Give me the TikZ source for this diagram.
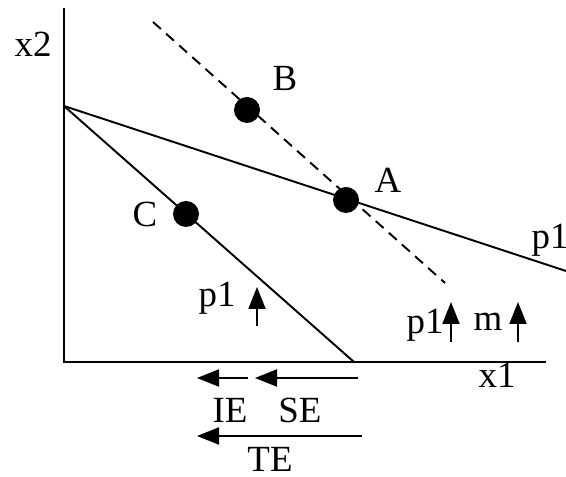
\documentclass[tikz,border=0pt]{standalone}
\usepackage{fontspec}
\setmainfont{Liberation Serif}
\usetikzlibrary{arrows.meta}
\begin{document}
\begin{tikzpicture}[line width=1.1pt, font=\fontsize{21}{25}\selectfont]
\useasboundingbox (0,0) rectangle (11.32,9.54);
% axes
\coordinate (o) at (1.28,2.30);
\coordinate (ytop) at (1.28,9.38);
\coordinate (xend) at (10.92,2.30);
\draw (ytop) -- (o) -- (xend);
\node (x2) at (0.66,8.66) {x2};
\node (x1) at (9.94,2.04) {x1};
% budget lines
\coordinate (i) at (1.28,7.42);
\coordinate (r) at (11.32,4.12);
\coordinate (s) at (7.08,2.30);
\coordinate (d1) at (3.06,9.10);
\coordinate (d2) at (8.90,3.88);
\draw (i) -- (r);
\draw (i) -- (s);
\draw[dashed, dash pattern=on 6pt off 4pt] (d1) -- (d2);
% bundles
\node[circle, fill, inner sep=0pt, minimum size=0.52cm] (a) at (6.92,5.54) {};
\node[circle, fill, inner sep=0pt, minimum size=0.52cm] (b) at (4.94,7.34) {};
\node[circle, fill, inner sep=0pt, minimum size=0.52cm] (c) at (3.72,5.26) {};
\node (la) at (7.76,5.94) {A};
\node (lb) at (5.70,7.98) {B};
\node (lc) at (2.90,5.26) {C};
\node (pr) at (11.00,4.74) {p1};
% price and income changes
\node (p1a) at (4.34,3.58) {p1};
\coordinate (ua0) at (5.14,3.02);
\coordinate (ua1) at (5.14,3.80);
\draw[-{Triangle[length=0.44cm,width=0.34cm]}] (ua0) -- (ua1);
\node (p1b) at (8.50,3.04) {p1};
\coordinate (ub0) at (9.02,2.70);
\coordinate (ub1) at (9.02,3.50);
\draw[-{Triangle[length=0.44cm,width=0.34cm]}] (ub0) -- (ub1);
\node (m) at (9.76,3.10) {m};
\coordinate (uc0) at (10.36,2.70);
\coordinate (uc1) at (10.36,3.50);
\draw[-{Triangle[length=0.44cm,width=0.34cm]}] (uc0) -- (uc1);
% effects
\coordinate (ie0) at (4.96,1.98);
\coordinate (ie1) at (3.94,1.98);
\coordinate (se0) at (7.16,1.98);
\coordinate (se1) at (5.10,1.98);
\coordinate (te0) at (7.24,0.82);
\coordinate (te1) at (3.94,0.82);
\draw[-{Triangle[length=0.44cm,width=0.34cm]}] (ie0) -- (ie1);
\draw[-{Triangle[length=0.44cm,width=0.34cm]}] (se0) -- (se1);
\draw[-{Triangle[length=0.44cm,width=0.34cm]}] (te0) -- (te1);
\node (ie) at (4.60,1.34) {IE};
\node (se) at (6.00,1.34) {SE};
\node (te) at (5.40,0.36) {TE};
\end{tikzpicture}
\end{document}
